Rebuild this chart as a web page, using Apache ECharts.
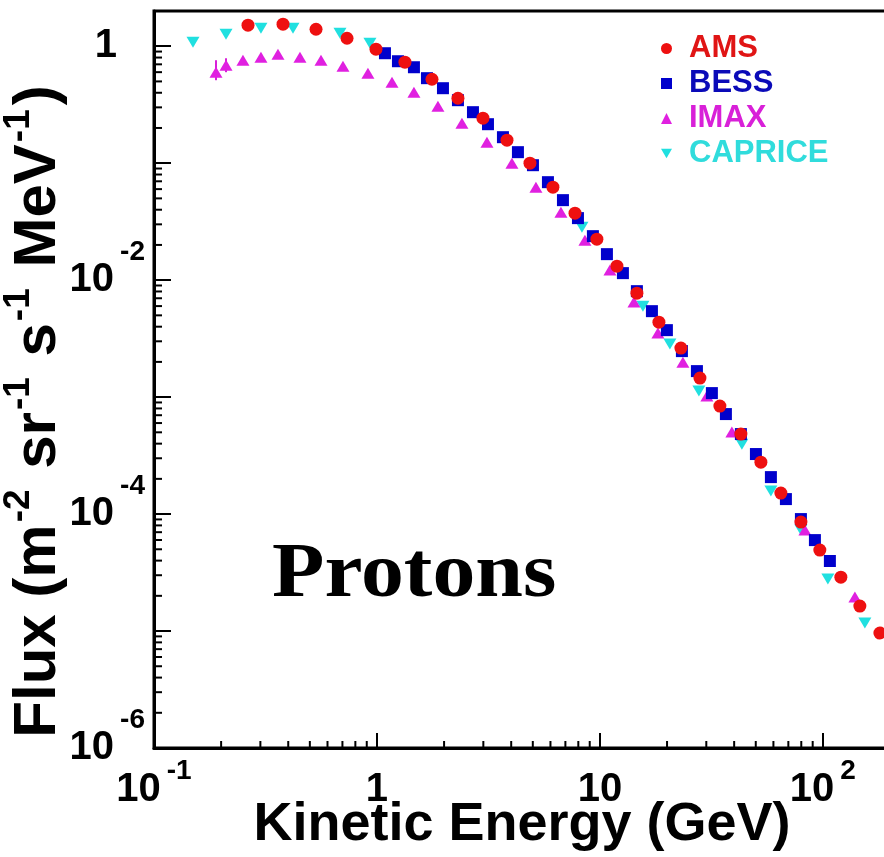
<!DOCTYPE html>
<html><head><meta charset="utf-8">
<script src="https://cdn.jsdelivr.net/npm/echarts@6/dist/echarts.min.js"></script>
<style>html,body{margin:0;padding:0;background:#fff}#c{width:884px;height:857px}</style>
</head><body><div id="c"></div>
<script>
// ---- data (kinetic energy in GeV, flux) ----
const amsE = [0.264,0.379,0.533,0.734,0.990,1.335,1.765,2.308,2.988,3.83,4.855,6.155,7.73,9.69,11.92,14.65,18.39,23.08,28.09,34.52,42.88,52.72,64.8,79.7,96.9,120.4,146.5,180.2];
const amsF = [1.512,1.542,1.397,1.170,0.943,0.730,0.522,0.359,0.2424,0.1573,0.100,0.0624,0.03738,0.02241,0.01317,0.00774,0.004375,0.002623,0.001454,8.38e-4,4.83e-4,2.78e-4,1.512e-4,8.54e-5,4.92e-5,2.89e-5,1.636e-5,9.61e-6];
const bessE = [1.086,1.242,1.465,1.676,1.977,2.308,2.695,3.147,3.673,4.288,5.008,5.846,6.826,7.97,9.30,10.75,12.68,14.65,17.11,19.97,23.32,27.23,31.78,36.73,42.88,50.08,58.46,68.26,79.7,92.1,107.5];
const bessF = [0.871,0.744,0.661,0.533,0.4375,0.3455,0.2729,0.2154,0.1668,0.1242,0.0961,0.0688,0.0483,0.0339,0.02377,0.01668,0.01148,0.00805,0.00543,0.003737,0.002473,0.001668,0.001082,7.16e-4,4.83e-4,3.26e-4,2.07e-4,1.343e-4,9.06e-5,5.99e-5,3.97e-5];
const imaxE = [0.1897,0.2104,0.2506,0.3018,0.3598,0.4515,0.561,0.704,0.911,1.168,1.465,1.877,2.405,3.114,4.03,5.164,6.685,8.565,11.09,14.21,18.2,23.56,30.18,39.07,83.07,139.2];
const imaxF = [0.5995,0.688,0.759,0.805,0.854,0.805,0.759,0.675,0.588,0.492,0.4045,0.307,0.2197,0.1512,0.100,0.0624,0.03814,0.02197,0.01218,0.00649,0.003524,0.00199,0.00102,5.02e-4,7.30e-5,1.952e-5];
const imaxErrE = [0.1897,0.2104];
const imaxErrLo = [0.512,0.5995];
const imaxErrHi = [0.759,0.789];
const capE = [0.1496,0.2104,0.3018,0.4201,0.6826,0.930,8.307,15.59,20.6,27.79,43.33,58.46,79.7,105.3,154.3];
const capF = [1.082,1.266,1.425,1.425,1.291,1.061,0.02838,0.005995,0.002838,0.001125,3.96e-4,1.572e-4,7.30e-5,2.78e-5,1.17e-5];

const seriesNames = ['AMS','BESS','IMAX','CAPRICE'];
const xMin = 0.1, xMax = 200, yMin = 1e-6, yMax = 2;
const xMinorTicks = [0.2,0.3,0.4,0.5,0.6,0.7,0.8,0.9,2,3,4,5,6,7,8,9,20,30,40,50,60,70,80,90,200];
const yMinorTicks = [];
[-6,-5,-4,-3,-2,-1,0].forEach(d => [2,3,4,5,6,7,8,9].forEach(k => { const v = k*Math.pow(10,d); if (v < yMax) yMinorTicks.push(v); }));

const FONT = '"Liberation Sans", Arial, sans-serif';
const zip = (a,b) => a.map((v,i)=>[v,b[i]]);
const downTri = 'path://M0,0L10,0L5,8.66Z';

const chart = echarts.init(document.getElementById('c'), null, {renderer:'canvas'});

function expOf(v){ const l = Math.log10(v); const e = Math.round(l); return Math.abs(l-e) < 0.01 ? e : null; }

const option = {
  backgroundColor:'#fff',
  animation:false,
  grid:{left:154, right:-6, top:11, bottom:109, outerBoundsMode:'none', containLabel:false, show:true, borderColor:'#000', borderWidth:3, backgroundColor:'transparent'},
  xAxis:{
    type:'log', min:xMin, max:xMax, logBase:10, splitNumber:10,
    axisLine:{show:true, onZero:false, lineStyle:{color:'#000', width:3}},
    axisTick:{show:true, inside:true, length:15, lineStyle:{color:'#000', width:2}},
    splitLine:{show:false},
    axisLabel:{
      margin:9, color:'#000',
      formatter: v => { const e = expOf(v); if (e===null) return '';
        if (e===0) return '{b|1}'; if (e===1) return '{b|10}'; return '{b|10}{e|'+e+'}'; },
      rich:{
        b:{fontSize:40, fontWeight:'bold', fontFamily:FONT, color:'#000', lineHeight:66},
        e:{fontSize:28, fontWeight:'bold', fontFamily:FONT, color:'#000', padding:[0,0,38,6]}
      }
    },
    name:'Kinetic Energy (GeV)', nameLocation:'middle', nameGap:50, nameMoveOverlap:false,
    nameTextStyle:{fontSize:54, fontWeight:'bold', fontFamily:FONT, color:'#000'}
  },
  yAxis:{
    type:'log', min:yMin, max:yMax, logBase:10, splitNumber:10,
    axisLine:{show:true, onZero:false, lineStyle:{color:'#000', width:3}},
    axisTick:{show:true, inside:true, length:17, lineStyle:{color:'#000', width:2}},
    splitLine:{show:false},
    axisLabel:{
      margin:9, color:'#000',
      formatter: v => { const e = expOf(v); if (e===null || e%2!==0) return '';
        if (e===0) return '{one|1}'; return '{b|10}{e|'+e+'}'; },
      rich:{
        one:{fontSize:40, fontWeight:'bold', fontFamily:FONT, color:'#000', padding:[0,28,0,0]},
        b:{fontSize:40, fontWeight:'bold', fontFamily:FONT, color:'#000'},
        e:{fontSize:28, fontWeight:'bold', fontFamily:FONT, color:'#000', padding:[0,0,56,6]}
      }
    },
    name:'{b|Flux (m}{s|-2}{b| sr}{s|-1}{b| s}{s|-1}{b| MeV}{s|-1}{b|)}',
    nameLocation:'middle', nameRotate:90, nameGap:77, nameMoveOverlap:false,
    nameTextStyle:{padding:[0,64,0,0], rich:{
      b:{fontSize:60, fontWeight:'bold', fontFamily:FONT, color:'#000'},
      s:{fontSize:37, fontWeight:'bold', fontFamily:FONT, color:'#000', padding:[0,4,40,2]}
    }}
  },
  legend:{
    orient:'vertical', left:656, top:26, itemWidth:11, itemHeight:11, itemGap:0,
    textStyle:{fontSize:31, fontWeight:'bold', fontFamily:FONT, lineHeight:35, padding:[0,0,0,12]},
    data:[
      {name:'AMS', icon:'circle', textStyle:{color:'#e01515'}},
      {name:'BESS', icon:'rect', textStyle:{color:'#0a0ab8'}},
      {name:'IMAX', icon:'triangle', textStyle:{color:'#d820d8'}},
      {name:'CAPRICE', icon:downTri, textStyle:{color:'#30dcdc'}}
    ]
  },
  graphic:[{type:'text', left:272, top:537, scaleX:1.1, originX:0, style:{text:'Protons', font:'bold 78px "Liberation Serif", "Times New Roman", serif', fill:'#000'}}],
  series:[
    {type:'custom', silent:true, data:xMinorTicks.map(v=>[v,yMin]), z:10,
      renderItem:(p,api)=>{ const c = api.coord([api.value(0), yMin]);
        return {type:'line', shape:{x1:c[0],y1:c[1],x2:c[0],y2:c[1]-7}, style:{stroke:'#000', lineWidth:2}}; }},
    {type:'custom', silent:true, data:yMinorTicks.map(v=>[xMin,v]), z:10,
      renderItem:(p,api)=>{ const c = api.coord([xMin, api.value(1)]);
        return {type:'line', shape:{x1:c[0],y1:c[1],x2:c[0]+8,y2:c[1]}, style:{stroke:'#000', lineWidth:2}}; }},
    {type:'custom', silent:true, data:imaxErrE.map((v,i)=>[v,imaxErrLo[i],imaxErrHi[i]]),
      renderItem:(p,api)=>{ const a = api.coord([api.value(0), api.value(1)]); const b = api.coord([api.value(0), api.value(2)]);
        return {type:'line', shape:{x1:a[0],y1:a[1],x2:b[0],y2:b[1]}, style:{stroke:'#d820d8', lineWidth:2}}; }},
    {name:'CAPRICE', type:'scatter', data:zip(capE,capF), symbol:downTri, symbolSize:[13,11], itemStyle:{color:'#20e0e0', opacity:1}},
    {name:'IMAX', type:'scatter', data:zip(imaxE,imaxF), symbol:'triangle', symbolSize:[13,11], itemStyle:{color:'#e020e0', opacity:1}},
    {name:'BESS', type:'scatter', data:zip(bessE,bessF), symbol:'rect', symbolSize:12, itemStyle:{color:'#0000cc', opacity:1}},
    {name:'AMS', type:'scatter', data:zip(amsE,amsF), symbol:'circle', symbolSize:13, itemStyle:{color:'#ee1010', opacity:1}}
  ]
};
chart.setOption(option);
</script></body></html>
